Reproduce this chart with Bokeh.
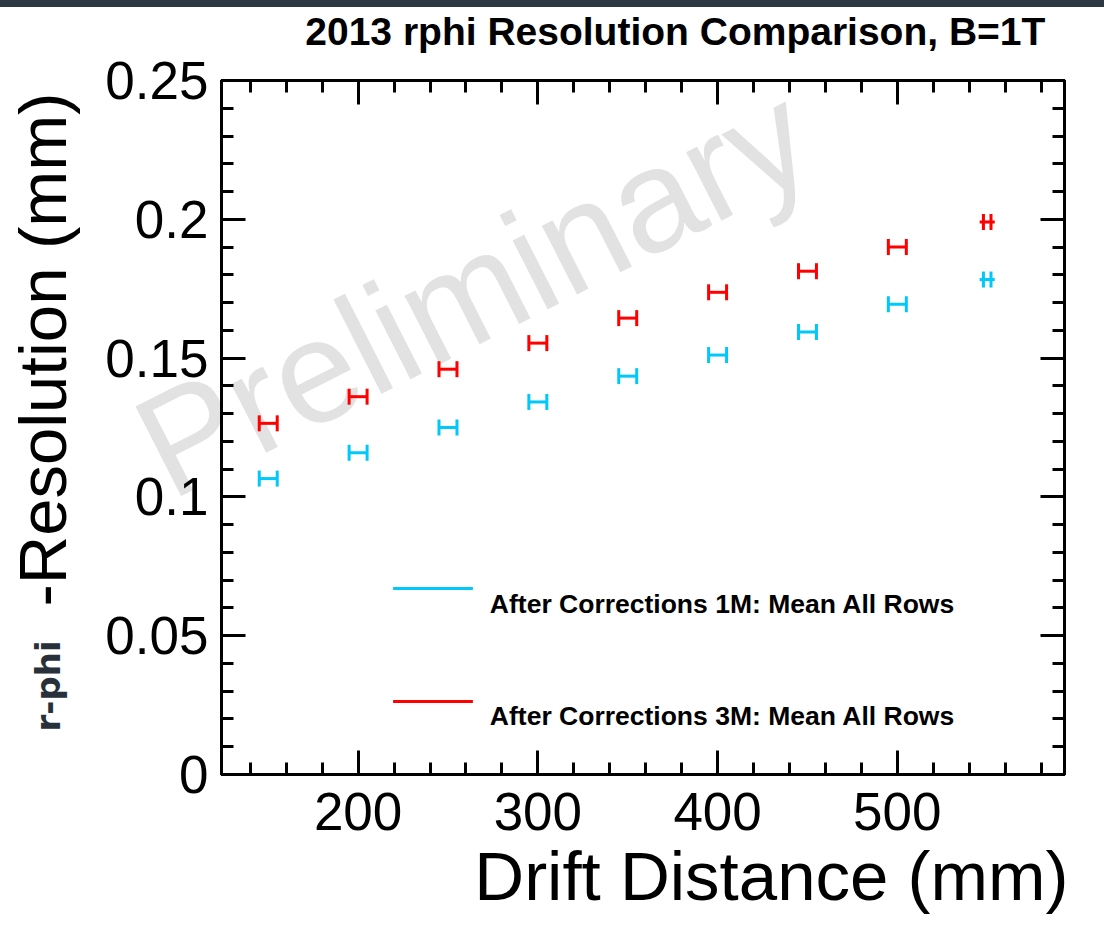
import numpy as np
from bokeh.plotting import figure
from bokeh.layouts import column
from bokeh.models import (Range1d, FixedTicker, LinearAxis, Label, BoxAnnotation,
                          ColumnDataSource, Div)
from bokeh.embed import file_html
from bokeh.resources import INLINE

# ---------------- data ----------------
drift = [150, 200, 250, 300, 350, 400, 450, 500, 550]
res_1m = [0.1066, 0.1159, 0.1250, 0.1342, 0.1435, 0.1511, 0.1594, 0.1694, 0.1783]
res_3m = [0.1265, 0.1361, 0.1460, 0.1554, 0.1644, 0.1737, 0.1813, 0.1900, 0.1990]
x_err = [5, 5, 5, 5, 5, 5, 5, 5, 4.2]
cap_off = [5, 5, 5, 5, 5, 5, 5, 5, 2.1]

x_ticks = [200, 300, 400, 500]
x_minor = [140, 160, 180, 220, 240, 260, 280, 320, 340, 360, 380, 420, 440, 460, 480,
           520, 540, 560, 580]
y_ticks = [0, 0.05, 0.1, 0.15, 0.2, 0.25]
y_tick_labels = ["0", "0.05", "0.1", "0.15", "0.2", "0.25"]
y_minor = [0.01, 0.02, 0.03, 0.04, 0.06, 0.07, 0.08, 0.09, 0.11, 0.12, 0.13, 0.14,
           0.16, 0.17, 0.18, 0.19, 0.21, 0.22, 0.23, 0.24]

title_text = "2013 rphi Resolution Comparison, B=1T"
x_label = "Drift Distance (mm)"
y_label_main = "-Resolution (mm)"
y_label_prefix = "r-phi"
legend_1m = "After Corrections 1M: Mean All Rows"
legend_3m = "After Corrections 3M: Mean All Rows"
watermark = "Preliminary"

COL_1M = "#00c8fa"
COL_3M = "#ff0000"
BAND = "#2e3842"

# ---------------- geometry (window pixels) ----------------
W, H = 1104, 940
BAND_H = 7
FL, FR, FT, FB = 221, 1066, 80, 774
X0, X1 = 124, 593
Y0, Y1 = 0.0, 0.25
PH = H - BAND_H


def dx(px):
    return X0 + (px - FL) * (X1 - X0) / (FR - FL)


def dy(py):
    return Y0 + (FB - py) * (Y1 - Y0) / (FB - FT)


FONT = "Liberation Sans"
WM_X, WM_Y = 147, 456   # window pixels of the watermark anchor

# ---------------- back layer (own root, so its frame is the whole page) ----------
back = figure(width=W, height=H, x_range=Range1d(dx(0), dx(W)),
              y_range=Range1d(dy(H), dy(0)), output_backend="svg",
              toolbar_location=None, title=None, x_axis_location=None,
              y_axis_location=None, min_border=0,
              styles={"position": "absolute", "top": "0px", "left": "0px",
                      "z-index": "-1", "width": f"{W}px", "height": f"{H}px"})
back.outline_line_color = None
back.grid.visible = False
back.background_fill_alpha = 0
back.border_fill_alpha = 0
try:
    wm = Label(x=WM_X, y=WM_Y, x_units="canvas", y_units="canvas", text=watermark,
               angle=np.deg2rad(27), text_font=FONT, text_font_size="146px",
               text_color="#e2e2e2", text_align="left", text_baseline="alphabetic")
except Exception:
    wm = Label(x=dx(WM_X), y=dy(WM_Y), text=watermark, angle=np.deg2rad(27),
               text_font=FONT, text_font_size="146px", text_color="#e2e2e2",
               text_align="left", text_baseline="alphabetic")
back.add_layout(wm)

# ---------------- main plot ----------------
p = figure(width=W, height=PH, x_range=Range1d(X0, X1), y_range=Range1d(Y0, Y1),
           output_backend="svg", toolbar_location=None, title=None,
           min_border_left=FL, min_border_right=W - FR,
           min_border_top=FT - BAND_H, min_border_bottom=H - FB,
           styles={"position": "relative"})
p.background_fill_alpha = 0
p.border_fill_alpha = 0
p.outline_line_color = "black"
p.outline_line_width = 3
p.grid.visible = False


def style_axis(ax, ticks, minor, show_labels):
    ax.ticker = FixedTicker(ticks=ticks, minor_ticks=minor)
    ax.axis_line_width = 3
    ax.axis_line_color = "black"
    ax.major_tick_in = 24
    ax.major_tick_out = 0
    ax.minor_tick_in = 12
    ax.minor_tick_out = 0
    ax.major_tick_line_width = 3
    ax.minor_tick_line_width = 3
    ax.major_tick_line_color = "black"
    ax.minor_tick_line_color = "black"
    if show_labels:
        ax.major_label_text_font = FONT
        ax.major_label_text_font_size = "53px"
        ax.major_label_text_color = "black"
    else:
        ax.major_label_text_font_size = "0px"
        ax.major_label_text_alpha = 0
        ax.major_label_standoff = 0


xa = p.xaxis[0]
ya = p.yaxis[0]
style_axis(xa, x_ticks, x_minor, True)
style_axis(ya, y_ticks, y_minor, True)
xa.major_label_standoff = 18
ya.major_label_standoff = 13
ya.major_label_overrides = {t: s for t, s in zip(y_ticks, y_tick_labels)}

top_ax = LinearAxis()
right_ax = LinearAxis()
style_axis(top_ax, x_ticks, x_minor, False)
style_axis(right_ax, y_ticks, y_minor, False)
p.add_layout(top_ax, "above")
p.add_layout(right_ax, "right")


# ---------------- data marks ----------------
def draw_series(yvals, color):
    x = np.array(drift, dtype=float)
    y = np.array(yvals, dtype=float)
    xe = np.array(x_err, dtype=float)
    co = np.array(cap_off, dtype=float)
    src = ColumnDataSource(dict(x=x, y=y, x0=x - xe, x1=x + xe, cl=x - co, cr=x + co))
    p.segment(x0="x0", y0="y", x1="x1", y1="y", source=src, line_color=color,
              line_width=3)
    p.scatter(x="cl", y="y", source=src, marker="dash", angle=np.pi / 2, size=16,
              line_color=color, line_width=3)
    p.scatter(x="cr", y="y", source=src, marker="dash", angle=np.pi / 2, size=16,
              line_color=color, line_width=3)


draw_series(res_1m, COL_1M)
draw_series(res_3m, COL_3M)

# ---------------- legend (ROOT style) ----------------
for col, txt, ly, ty in [(COL_1M, legend_1m, 588, 603), (COL_3M, legend_3m, 701, 715)]:
    p.add_layout(BoxAnnotation(left=dx(393), right=dx(473), bottom=dy(ly + 1.5),
                               top=dy(ly - 1.5), fill_color=col, fill_alpha=1,
                               line_alpha=0))
    p.add_layout(Label(x=dx(490), y=dy(ty), text=txt, text_font=FONT,
                       text_font_size="26.5px", text_font_style="bold",
                       text_color="black", text_align="left",
                       text_baseline="alphabetic"))

# ---------------- titles / axis labels (side panels: not clipped) ----------------
p.add_layout(Label(x=dx(305), y=dy(31), text=title_text, text_font=FONT,
                   text_font_size="39px", text_font_style="bold", text_color="black",
                   text_align="left", text_baseline="alphabetic"), "above")
p.add_layout(Label(x=dx(1070), y=dy(876), text=x_label, text_font=FONT,
                   text_font_size="69px", text_color="black", text_align="right",
                   text_baseline="alphabetic"), "below")
p.add_layout(Label(x=dx(42), y=dy(606), text=y_label_main, text_font=FONT,
                   text_font_size="67px", text_color="black", text_align="left",
                   text_baseline="alphabetic", angle=np.pi / 2), "left")
p.add_layout(Label(x=dx(47), y=dy(731), text=y_label_prefix,
                   text_font="DejaVu Sans", text_font_size="34px",
                   text_font_style="bold", text_color="#28313a",
                   text_align="left", text_baseline="alphabetic",
                   angle=np.pi / 2), "right")

band = Div(text="", width=W, height=BAND_H, margin=(0, 0, 0, 0),
           styles={"background-color": BAND})
layout = column(band, p, spacing=0)

open("out.html", "w").write(file_html([back, layout], INLINE))
